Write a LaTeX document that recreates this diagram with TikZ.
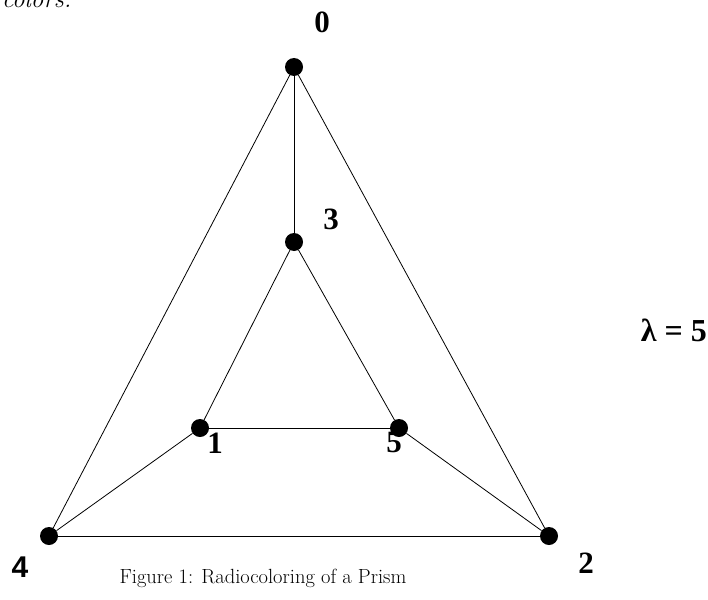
\documentclass[tikz,border=0pt]{standalone}
\usepackage{fontspec}
\newfontfamily\tnr{Liberation Serif}
\newfontfamily\arl{Liberation Sans}
\begin{document}
\begin{tikzpicture}[x=1pt,y=-1pt,
  vtx/.style={circle,fill=black,inner sep=0pt,minimum size=18pt},
  edge/.style={draw=black,line width=0.8pt},
  lbl/.style={inner sep=0pt,font=\tnr\bfseries\fontsize{31}{34}\selectfont}]
\useasboundingbox (0,0) rectangle (708,599);
\node[vtx] (v0) at (294,67) {};
\node[vtx] (v3) at (294,242) {};
\node[vtx] (v1) at (200,428) {};
\node[vtx] (v5) at (399,428) {};
\node[vtx] (v4) at (49,536) {};
\node[vtx] (v2) at (549,536) {};
\draw[edge] (v0) -- (v3);
\draw[edge] (v0) -- (v4);
\draw[edge] (v0) -- (v2);
\draw[edge] (v3) -- (v1);
\draw[edge] (v3) -- (v5);
\draw[edge] (v1) -- (v5);
\draw[edge] (v1) -- (v4);
\draw[edge] (v5) -- (v2);
\draw[edge] (v4) -- (v2);
\node[lbl] (l0) at (322,22) {0};
\node[lbl] (l3) at (331,219) {3};
\node[lbl] (l1) at (215,443) {1};
\node[lbl] (l5) at (394,442) {5};
\node[lbl,font=\arl\bfseries\fontsize{30}{34}\selectfont] (l4) at (20,567) {4};
\node[lbl] (l2) at (586,563) {2};
\node[lbl,anchor=east,font=\tnr\bfseries\fontsize{32}{34}\selectfont] (lam) at (707,330) {λ = 5};
\node[inner sep=0pt,anchor=base west,font=\itshape\fontsize{25}{28}\selectfont] (top) at (2,8) {colors.};
\node[inner sep=0pt,font=\fontsize{20.5}{24}\selectfont] (cap) at (263,578) {Figure 1: Radiocoloring of a Prism};
\end{tikzpicture}
\end{document}
